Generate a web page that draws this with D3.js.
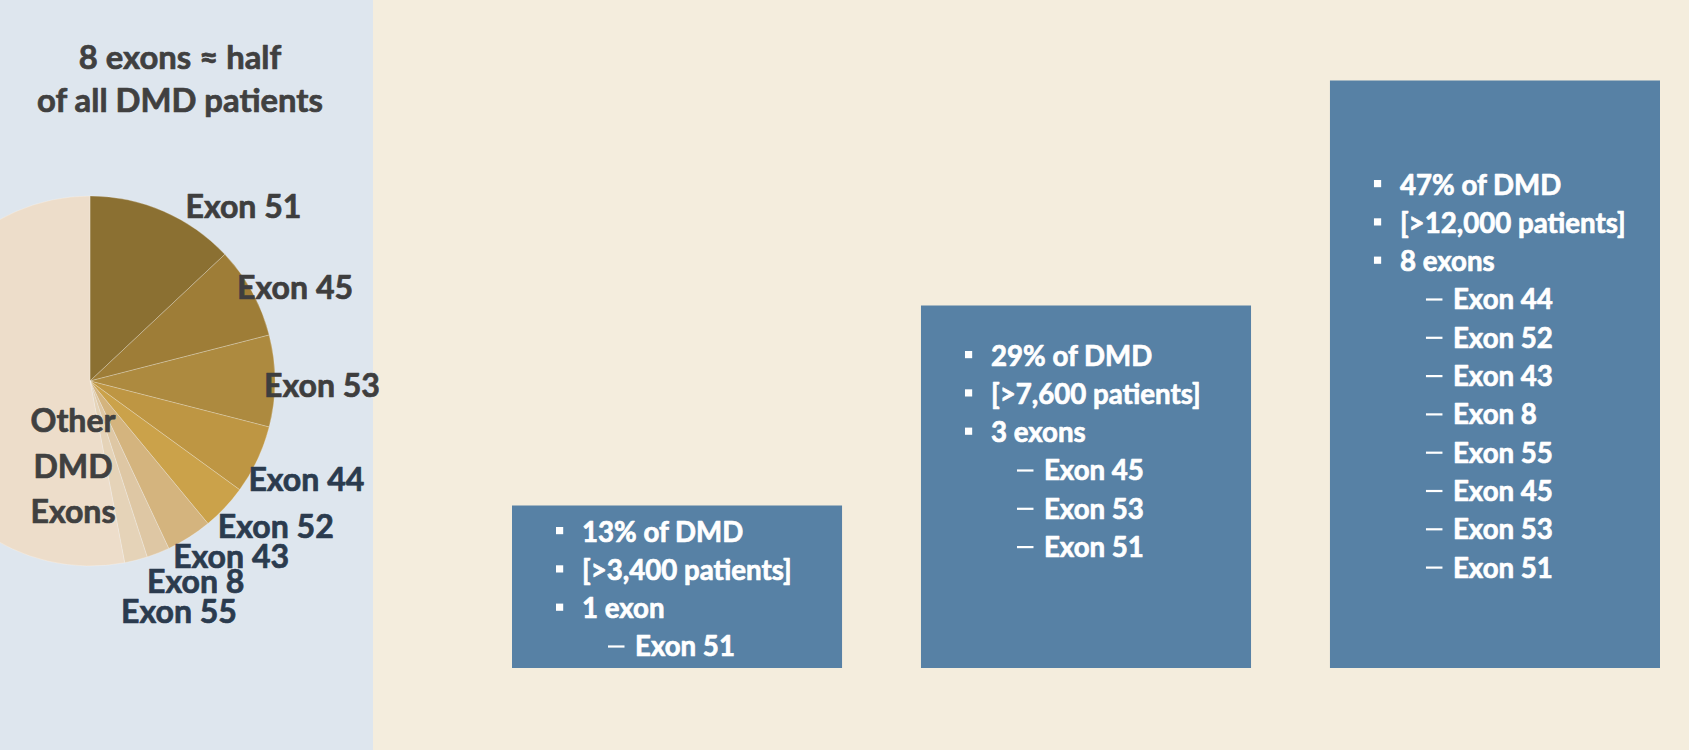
<!DOCTYPE html>
<html>
<head>
<meta charset="utf-8">
<script src="https://cdn.jsdelivr.net/npm/d3@7"></script>
<style>
  html, body { margin: 0; padding: 0; background: #F4EDDD; overflow: hidden; }
  svg { display: block; }
</style>
</head>
<body>
<svg id="chart" width="1689" height="750"></svg>
<script>
// ---------------- data ----------------
const pieLabels = ["Exon 51", "Exon 45", "Exon 53", "Exon 44", "Exon 52", "Exon 43", "Exon 8", "Exon 55", "Other DMD Exons"];
const pieValues = [13, 8, 8, 6, 4, 4, 2, 2, 53];
const pieColors = ["#8B7032", "#9E7D37", "#AD8A3F", "#BE9643", "#CBA24A", "#D4B47E", "#DEC7A4", "#E5D3B8", "#EDDDCA"];

const titleLines = ["8 exons \u2248 half", "of all DMD patients"];

const groupPercents = [13, 29, 47];
const groupPatients = ["3,400", "7,600", "12,000"];
const groupExonCounts = ["1 exon", "3 exons", "8 exons"];
const groupExons = [
  ["Exon 51"],
  ["Exon 45", "Exon 53", "Exon 51"],
  ["Exon 44", "Exon 52", "Exon 43", "Exon 8", "Exon 55", "Exon 45", "Exon 53", "Exon 51"]
];

// ---------------- setup ----------------
const W = 1689, H = 750;
const FONT = "Lato, 'Open Sans', sans-serif";
const svg = d3.select("#chart");

function fitSize(sample, target) {
  const t = svg.append("text").attr("font-family", FONT).attr("font-weight", 700)
    .attr("font-size", 100).text(sample);
  const w = t.node().getComputedTextLength();
  t.remove();
  return 100 * target / w;
}
const labelSize = fitSize("Exon 51", 116);
const boxSize = fitSize("Exon 51", 100);
const titleSize = fitSize("of all DMD patients", 286);

function boldText(sel, color) {
  return sel.attr("font-family", FONT).attr("font-weight", 700)
    .attr("fill", color).attr("stroke", color).attr("stroke-width", 0.7)
    .attr("stroke-linejoin", "round");
}

// backgrounds
svg.append("rect").attr("x", 0).attr("y", 0).attr("width", W).attr("height", H).attr("fill", "#F4EDDD");
svg.append("rect").attr("x", 0).attr("y", 0).attr("width", 373).attr("height", H).attr("fill", "#DEE6EE");

// ---------------- title ----------------
boldText(svg.append("g").selectAll("text").data(titleLines).join("text")
  .attr("x", 180).attr("y", (d, i) => 69 + i * 43)
  .attr("text-anchor", "middle")
  .attr("font-size", titleSize), "#404040").text(d => d);

// ---------------- pie ----------------
const cx = 90, cy = 381, R = 185;
const pie = d3.pie().sort(null).value(d => d.v);
const arcs = pie(pieValues.map((v, i) => ({ v, label: pieLabels[i], color: pieColors[i] })));
const arc = d3.arc().innerRadius(0).outerRadius(R);

const gPie = svg.append("g").attr("transform", `translate(${cx},${cy})`);
gPie.selectAll("path").data(arcs).join("path")
  .attr("d", arc)
  .attr("fill", d => d.data.color)
  .attr("stroke", "rgba(255,255,255,0.35)")
  .attr("stroke-width", 0.7);

// label nudges relative to the slice's outer mid point (layout only)
const labelNudge = [[22, 7], [-15, 7], [-11, 16], [-9, 31], [-7, 30], [-16, 31], [-11, 40], [-15, 63]];
const labelColor = ["#3E3E3E", "#3E3E3E", "#3E3E3E", "#2B3B4E", "#2B3B4E", "#2B3B4E", "#2B3B4E", "#2B3B4E"];
arcs.slice(0, 8).forEach((d, i) => {
  const mid = (d.startAngle + d.endAngle) / 2;
  const px = R * Math.sin(mid), py = -R * Math.cos(mid);
  boldText(gPie.append("text")
    .attr("x", px + labelNudge[i][0]).attr("y", py + labelNudge[i][1])
    .attr("font-size", labelSize), labelColor[i]).text(d.data.label);
});
// "Other DMD Exons" label, stacked words
const otherWords = pieLabels[8].split(" ");
boldText(gPie.append("g").selectAll("text").data(otherWords).join("text")
  .attr("x", -17).attr("y", (d, i) => 51 + i * 45.5)
  .attr("text-anchor", "middle")
  .attr("font-size", labelSize), "#404040").text(d => d);

// ---------------- bars (boxes) ----------------
const x = d3.scaleBand().domain(d3.range(groupPercents.length)).range([512, 1660]).paddingInner(0.193).paddingOuter(0);
const y = d3.scaleLinear().domain([0, 50]).range([668, 43]);

const gBars = svg.append("g");
gBars.selectAll("rect").data(groupPercents).join("rect")
  .attr("x", (d, i) => x(i)).attr("y", d => y(d))
  .attr("width", x.bandwidth()).attr("height", d => y(0) - y(d))
  .attr("fill", "#5781A5");

const firstBaseline = [36, 60, 114];
const lineH = 38.3;
groupPercents.forEach((p, i) => {
  const left = x(i);
  const top = y(p);
  const g = gBars.append("g");
  const bullets = [`${p}% of DMD`, `[>${groupPatients[i]} patients]`, groupExonCounts[i]];
  bullets.forEach((t, j) => {
    const by = top + firstBaseline[i] + j * lineH;
    g.append("rect").attr("x", left + 44).attr("y", by - 14.5).attr("width", 7.2).attr("height", 7.2).attr("fill", "#FFFFFF");
    boldText(g.append("text").attr("x", left + 70).attr("y", by)
      .attr("font-size", boxSize), "#FFFFFF").text(t);
  });
  groupExons[i].forEach((t, j) => {
    const by = top + firstBaseline[i] + (j + 3) * lineH;
    g.append("rect").attr("x", left + 96).attr("y", by - 11).attr("width", 16.5).attr("height", 2.2).attr("fill", "#FFFFFF");
    boldText(g.append("text").attr("x", left + 123).attr("y", by)
      .attr("font-size", boxSize), "#FFFFFF").text(t);
  });
});
</script>
</body>
</html>
